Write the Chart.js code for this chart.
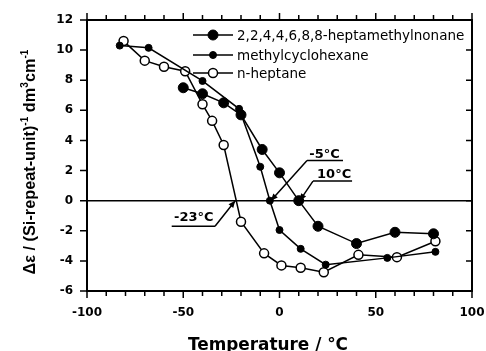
<!DOCTYPE html>
<html>
<head>
<meta charset="utf-8">
<script src="https://cdn.jsdelivr.net/npm/chart.js@4.4.0/dist/chart.umd.min.js"></script>
<style>
  html, body { margin: 0; padding: 0; background: #fff; }
  #wrap { width: 486px; height: 351px; }
</style>
</head>
<body>
<div id="wrap"><canvas id="chart" width="486" height="351"></canvas></div>
<script>
// Values: temperature (°C) and Δε
const hmnTemp = [-50, -40, -29, -20, -9, 0, 10, 20, 40, 60, 80];
const hmnEps  = [7.5, 7.1, 6.5, 5.7, 3.4, 1.85, 0, -1.7, -2.85, -2.1, -2.2];

const mchTemp = [-83, -68, -40, -21, -10, -5, 0, 11, 24, 56, 81];
const mchEps  = [10.3, 10.15, 7.95, 6.1, 2.25, 0, -1.95, -3.2, -4.25, -3.8, -3.4];

const hepTemp = [-81, -70, -60, -49, -40, -35, -29, -20, -8, 1, 11, 23, 41, 61, 81];
const hepEps  = [10.6, 9.3, 8.9, 8.6, 6.4, 5.3, 3.7, -1.4, -3.5, -4.3, -4.45, -4.75, -3.6, -3.75, -2.7];

const seriesNames = ['2,2,4,4,6,8,8-heptamethylnonane', 'methylcyclohexane', 'n-heptane'];

const xTicks = [-100, -50, 0, 50, 100];
const yTicks = [-6, -4, -2, 0, 2, 4, 6, 8, 10, 12];

// transition temperatures pointed at by the arrows
const markLabels = ['-23°C', '-5°C', '10°C'];
const markTemps  = [-23, -4.5, 10.5];

// where the arrow labels sit (data units)
const markLayout = [
  { textX: -44.5, textY: -1.35, align: 'center', lineFrom: -56, lineTo: -33.5, lineY: -1.7 },
  { textX: 15.5,  textY: 2.85,  align: 'left',   lineFrom: 14.3, lineTo: 33,   lineY: 2.67 },
  { textX: 19.5,  textY: 1.5,   align: 'left',   lineFrom: 17.4, lineTo: 37.7, lineY: 1.3 }
];

const FONT = '"DejaVu Sans", sans-serif';

function pts(xs, ys) {
  return xs.map((x, i) => ({ x: x, y: ys[i] }));
}

const seriesStyle = [
  { radius: 5,   fill: '#000', border: 1 },
  { radius: 3.5, fill: '#000', border: 1 },
  { radius: 4.5, fill: '#fff', border: 1.5 }
];

function drawMarker(ctx, px, py, st) {
  ctx.beginPath();
  ctx.arc(px, py, st.radius, 0, Math.PI * 2);
  ctx.fillStyle = st.fill;
  ctx.fill();
  ctx.lineWidth = st.border;
  ctx.strokeStyle = '#000';
  ctx.stroke();
}

function fitFont(ctx, text, weight, base, family, width) {
  ctx.font = weight + ' ' + base + 'px ' + family;
  const w = ctx.measureText(text).width;
  return base * width / w;
}

const decor = {
  id: 'decor',
  beforeDatasetsDraw(chart) {
    const { ctx, chartArea: a, scales: { y } } = chart;
    ctx.save();
    ctx.strokeStyle = '#000';
    ctx.lineWidth = 1.5;
    const y0 = y.getPixelForValue(0);
    ctx.beginPath();
    ctx.moveTo(a.left, y0);
    ctx.lineTo(a.right, y0);
    ctx.stroke();
    ctx.restore();
  },
  afterDatasetsDraw(chart) {
    const { ctx, chartArea: a, scales: { x, y } } = chart;
    ctx.save();
    ctx.strokeStyle = '#000';
    ctx.fillStyle = '#000';

    // frame
    ctx.lineWidth = 2;
    ctx.strokeRect(a.left, a.top, a.right - a.left, a.bottom - a.top);

    // x ticks: outward on top and bottom, every 10
    ctx.lineWidth = 1.5;
    for (let v = -100; v <= 100; v += 10) {
      const px = x.getPixelForValue(v);
      const len = (v % 50 === 0) ? 7 : 5;
      ctx.beginPath();
      ctx.moveTo(px, a.bottom);
      ctx.lineTo(px, a.bottom + len);
      ctx.moveTo(px, a.top);
      ctx.lineTo(px, a.top - len);
      ctx.stroke();
    }
    // y ticks: outward on left, inward on right
    yTicks.forEach(v => {
      const py = y.getPixelForValue(v);
      ctx.beginPath();
      ctx.moveTo(a.left, py);
      ctx.lineTo(a.left - 7, py);
      ctx.moveTo(a.right, py);
      ctx.lineTo(a.right - 6, py);
      ctx.stroke();
    });

    // legend
    const legY = [35, 55, 73];
    ctx.font = '13.5px ' + FONT;
    ctx.textAlign = 'left';
    ctx.textBaseline = 'middle';
    seriesNames.forEach((name, i) => {
      ctx.lineWidth = 1.5;
      ctx.beginPath();
      ctx.moveTo(193, legY[i]);
      ctx.lineTo(233, legY[i]);
      ctx.stroke();
      drawMarker(ctx, 213, legY[i], seriesStyle[i]);
      ctx.fillStyle = '#000';
      ctx.fillText(name, 237, legY[i] + 1);
    });

    // arrow labels
    ctx.font = 'bold 13px ' + FONT;
    ctx.textBaseline = 'alphabetic';
    markLabels.forEach((lab, i) => {
      const m = markLayout[i];
      ctx.textAlign = m.align;
      ctx.fillText(lab, x.getPixelForValue(m.textX), y.getPixelForValue(m.textY));
      const ly = y.getPixelForValue(m.lineY);
      const x1 = x.getPixelForValue(m.lineFrom);
      const x2 = x.getPixelForValue(m.lineTo);
      const startX = (i === 0) ? x2 : x1;
      const tipX = x.getPixelForValue(markTemps[i]);
      const tipY = y.getPixelForValue(0);
      ctx.lineWidth = 1.5;
      ctx.beginPath();
      ctx.moveTo(x1, ly);
      ctx.lineTo(x2, ly);
      ctx.moveTo(startX, ly);
      ctx.lineTo(tipX, tipY);
      ctx.stroke();
      // arrow head
      const ang = Math.atan2(tipY - ly, tipX - startX);
      const hl = 7, hw = 3;
      ctx.beginPath();
      ctx.moveTo(tipX, tipY);
      ctx.lineTo(tipX - hl * Math.cos(ang) + hw * Math.sin(ang), tipY - hl * Math.sin(ang) - hw * Math.cos(ang));
      ctx.lineTo(tipX - hl * Math.cos(ang) - hw * Math.sin(ang), tipY - hl * Math.sin(ang) + hw * Math.cos(ang));
      ctx.closePath();
      ctx.fill();
    });
    ctx.restore();
  },
  afterDraw(chart) {
    const { ctx } = chart;
    ctx.save();
    ctx.fillStyle = '#000';

    // x title
    const xt = 'Temperature / °C';
    const xs = fitFont(ctx, xt, 'bold', 16, FONT, 160);
    ctx.font = 'bold ' + xs + 'px ' + FONT;
    ctx.textAlign = 'center';
    ctx.textBaseline = 'alphabetic';
    ctx.fillText(xt, 268, 350);

    // y title with superscripts, rotated
    const parts = [
      ['Δε / (Si-repeat-unit)', false],
      ['-1', true],
      [' dm', false],
      ['3', true],
      ['cm', false],
      ['-1', true]
    ];
    const fam = '"Liberation Sans", Arial, sans-serif';
    let base = 15;
    const measure = size => {
      let w = 0;
      parts.forEach(p => {
        ctx.font = 'bold ' + (p[1] ? size * 0.62 : size) + 'px ' + fam;
        w += ctx.measureText(p[0]).width;
      });
      return w;
    };
    base = base * 225 / measure(base);
    const total = measure(base);
    ctx.translate(31, 162);
    ctx.rotate(-Math.PI / 2);
    ctx.textAlign = 'left';
    ctx.textBaseline = 'middle';
    let cx = -total / 2;
    parts.forEach(p => {
      const size = p[1] ? base * 0.62 : base;
      ctx.font = 'bold ' + size + 'px ' + fam;
      ctx.fillText(p[0], cx, p[1] ? -base * 0.38 : 0);
      cx += ctx.measureText(p[0]).width;
    });
    ctx.restore();
  }
};

const ctx = document.getElementById('chart').getContext('2d');
new Chart(ctx, {
  type: 'scatter',
  data: {
    datasets: [
      {
        label: seriesNames[0],
        data: pts(hmnTemp, hmnEps),
        showLine: true,
        borderColor: '#000',
        borderWidth: 1.5,
        pointRadius: seriesStyle[0].radius,
        pointBackgroundColor: seriesStyle[0].fill,
        pointBorderColor: '#000',
        pointBorderWidth: seriesStyle[0].border
      },
      {
        label: seriesNames[1],
        data: pts(mchTemp, mchEps),
        showLine: true,
        borderColor: '#000',
        borderWidth: 1.5,
        pointRadius: seriesStyle[1].radius,
        pointBackgroundColor: seriesStyle[1].fill,
        pointBorderColor: '#000',
        pointBorderWidth: seriesStyle[1].border
      },
      {
        label: seriesNames[2],
        data: pts(hepTemp, hepEps),
        showLine: true,
        borderColor: '#000',
        borderWidth: 1.5,
        pointRadius: seriesStyle[2].radius,
        pointBackgroundColor: seriesStyle[2].fill,
        pointBorderColor: '#000',
        pointBorderWidth: seriesStyle[2].border
      }
    ]
  },
  options: {
    responsive: false,
    animation: false,
    devicePixelRatio: 1,
    layout: { padding: { left: 0, top: 20, right: 14, bottom: 0 } },
    plugins: {
      legend: { display: false },
      tooltip: { enabled: false }
    },
    scales: {
      x: {
        type: 'linear',
        min: -100,
        max: 100,
        afterBuildTicks: s => { s.ticks = xTicks.map(v => ({ value: v })); },
        afterFit: s => { s.height = 60; s.paddingLeft = 0; s.paddingRight = 0; },
        grid: { display: false, drawTicks: false },
        border: { display: false },
        ticks: {
          color: '#000',
          padding: 15,
          maxRotation: 0,
          autoSkip: false,
          font: { family: FONT, weight: 'bold', size: 12 }
        }
      },
      y: {
        min: -6,
        max: 12,
        afterBuildTicks: s => { s.ticks = yTicks.map(v => ({ value: v })); },
        afterFit: s => { s.width = 87; s.paddingTop = 0; s.paddingBottom = 0; },
        grid: { display: false, drawTicks: false },
        border: { display: false },
        ticks: {
          color: '#000',
          padding: 14,
          font: { family: FONT, weight: 'bold', size: 12 }
        }
      }
    }
  },
  plugins: [decor]
});
</script>
</body>
</html>
